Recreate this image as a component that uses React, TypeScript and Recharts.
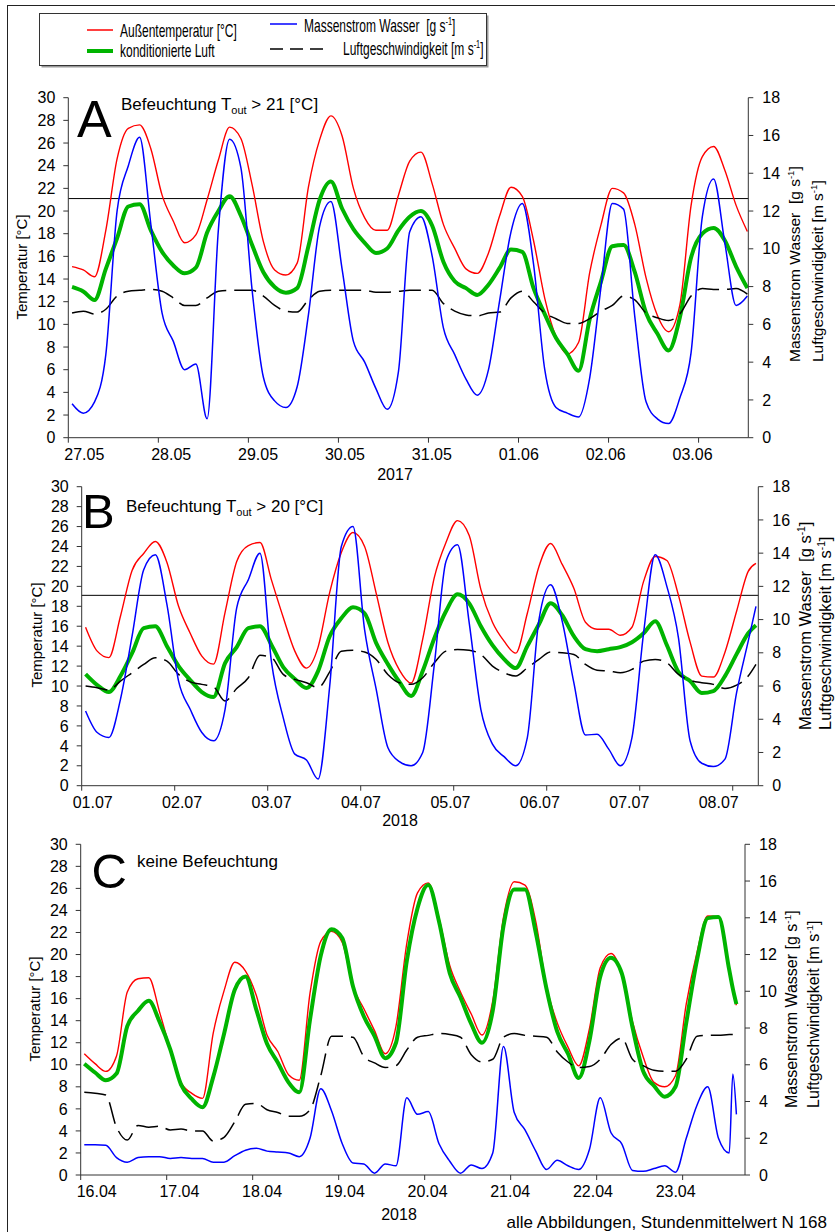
import React from 'react';
import { LineChart, Line, XAxis, YAxis, ReferenceLine } from 'recharts';

const FONT = '"Liberation Sans", Arial, Helvetica, sans-serif';

// ---------- x categories (hours since first midnight) ----------
const hoursA = [1,4,7,10,13,16,19,22,25,28,31,34,37,40,43,46,49,52,55,58,61,64,67,70,73,76,79,82,85,88,91,94,97,100,103,106,109,112,115,118,121,124,127,130,133,136,139,142,145,148,151,154,157,160,163,166,169,172,175,178,181];
const hoursB = [1,4,7,10,13,16,19,22,25,28,31,34,37,40,43,46,49,52,55,58,61,64,67,70,73,76,79,82,85,88,91,94,97,100,103,106,109,112,115,118,121,124,127,130,133,136,139,142,145,148,151,154,157,160,163,166,169,172,174];
const hoursC = [1,4,7,10,13,16,19,22,25,28,31,34,37,40,43,46,49,52,55,58,61,64,67,70,73,76,79,82,85,88,91,94,97,100,103,106,109,112,115,118,121,124,127,130,133,136,139,142,145,148,151,154,157,160,163,166,169,172,175,178,181,182,183];

// ---------- tick labels ----------
const datesA = ['27.05','28.05','29.05','30.05','31.05','01.06','02.06','03.06'];
const datesB = ['01.07','02.07','03.07','04.07','05.07','06.07','07.07','08.07'];
const datesC = ['16.04','17.04','18.04','19.04','20.04','21.04','22.04','23.04'];
const dayTicks = [0,24,48,72,96,120,144,168];
const tempTicks = [0,2,4,6,8,10,12,14,16,18,20,22,24,26,28,30];
const rightTicks = [0,2,4,6,8,10,12,14,16,18];

// ---------- Panel A (2017) ----------
const redA = [15.1,14.8,14.2,18.3,24.6,27.3,27.6,25.5,21.4,19.1,17.2,17.9,21.0,24.5,27.4,26.4,22.3,17.3,14.8,14.35,15.4,22.1,26.3,28.4,26.6,22.0,19.4,18.3,18.3,21.4,24.4,25.2,22.4,18.8,16.7,14.9,14.5,16.3,19.6,22.1,21.3,17.4,12.3,8.9,7.4,8.4,14.6,18.8,22.0,21.6,18.8,14.1,10.8,9.35,11.7,20.5,24.8,25.7,23.6,20.5,18.2];
const greenA = [13.3,12.9,12.15,14.9,17.6,20.4,20.6,18.3,16.4,15.2,14.5,15.0,18.1,20.0,21.3,19.6,17.0,14.6,13.3,12.8,13.2,16.9,21.0,22.6,20.2,18.4,17.2,16.3,16.7,18.3,19.5,20.0,18.7,15.5,13.8,13.2,12.6,13.5,15.0,16.6,16.4,13.2,10.9,8.8,7.4,5.9,10.5,13.8,16.9,17.0,14.6,11.0,9.2,7.7,10.6,15.9,18.0,18.5,17.4,15.1,13.2];
const blueA = [1.8,1.3,1.9,4.4,12.0,14.4,15.9,11.3,6.6,5.1,3.6,3.9,1.0,11.0,15.8,14.3,7.8,3.2,1.95,1.6,2.7,6.5,11.2,12.5,8.9,5.1,4.0,2.6,1.5,3.5,10.9,11.7,9.6,5.8,4.4,3.1,2.25,3.6,7.3,10.9,12.4,9.2,3.6,1.6,1.3,1.1,3.2,8.0,12.4,12.1,6.4,1.9,1.0,0.75,2.1,4.5,11.7,13.7,10.3,7.0,7.5];
const windA = [6.6,6.7,6.55,6.8,7.5,7.75,7.8,7.85,7.75,7.4,7.0,7.0,7.4,7.75,7.8,7.8,7.8,7.5,7.0,6.7,6.65,7.3,7.75,7.8,7.8,7.8,7.8,7.7,7.7,7.75,7.8,7.8,7.8,7.1,6.7,6.5,6.45,6.6,6.65,7.4,7.75,7.2,6.6,6.3,6.05,6.05,6.3,6.7,7.0,7.5,7.3,6.6,6.35,6.2,6.55,7.5,7.9,7.85,7.85,7.9,7.6];

// ---------- Panel B (2018, July) ----------
const redB = [15.9,13.5,12.85,17.0,21.6,23.3,24.5,22.4,18.0,15.3,13.0,12.2,17.4,22.5,24.1,24.4,20.6,16.9,13.5,11.8,13.9,19.4,23.4,25.4,24.0,19.3,14.4,11.6,10.3,14.7,20.9,24.4,26.6,25.1,19.7,16.4,14.5,13.3,17.3,22.0,24.3,22.2,19.8,16.4,15.7,15.7,15.1,15.9,20.5,23.0,22.6,19.1,14.4,11.0,10.9,13.4,17.5,21.5,22.3];
const greenB = [11.2,10.1,9.4,11.0,13.3,15.8,16.0,14.0,12.0,10.6,9.4,8.9,12.3,13.9,15.8,16.0,14.1,11.9,10.7,9.8,11.5,15.0,16.8,17.9,17.3,14.3,12.2,10.4,9.0,11.5,14.8,17.5,19.2,18.3,16.0,14.1,12.7,11.8,14.0,16.2,18.3,17.1,15.0,13.7,13.5,13.7,13.9,14.4,15.3,16.5,14.1,11.4,10.5,9.3,9.5,11.0,13.2,15.3,16.1];
const blueB = [4.5,3.2,2.9,5.2,9.0,13.0,13.9,10.9,6.3,4.6,3.2,2.7,4.6,10.7,12.4,14.0,7.4,4.1,1.9,1.55,0.4,6.0,14.4,15.6,9.4,5.8,2.3,1.45,1.2,2.0,7.3,13.5,14.5,9.8,4.6,2.5,1.75,1.2,2.9,10.0,12.1,9.9,6.2,3.05,3.1,2.2,1.2,2.9,9.2,13.9,12.0,8.9,2.7,1.35,1.15,1.6,5.6,8.7,10.8];
const windB = [6.0,5.9,5.75,6.3,6.8,7.3,7.7,7.5,6.7,6.25,6.1,5.95,5.1,5.85,6.5,7.85,7.7,6.7,6.4,6.2,5.9,6.85,8.1,8.15,8.05,7.6,6.7,6.2,6.1,6.5,7.4,8.1,8.2,8.15,7.9,7.2,6.8,6.6,7.1,7.6,8.05,8.0,7.9,7.3,6.95,6.9,6.8,7.0,7.5,7.6,7.4,6.7,6.35,6.2,6.1,5.85,6.05,6.6,7.3];

// ---------- Panel C (2018, April) ----------
const redC = [11.0,10.1,9.4,10.8,16.6,17.8,17.9,14.8,11.4,8.4,7.4,6.95,12.9,16.7,19.3,18.5,16.3,12.7,11.2,9.1,8.6,16.5,21.2,22.1,21.1,17.1,15.1,13.1,11.0,13.5,21.0,25.6,26.5,23.3,19.0,16.6,14.6,12.7,15.8,23.4,26.6,26.3,23.0,17.1,13.8,11.6,9.9,13.3,18.8,20.1,18.3,13.9,10.7,8.4,8.0,9.0,15.5,20.2,23.5,23.4,18.5,16.8,15.4];
const greenC = [10.1,9.3,8.6,9.2,13.5,14.9,15.8,13.9,11.4,8.2,6.9,6.15,8.9,12.8,16.8,18.0,15.0,11.9,10.2,8.4,7.5,14.1,19.9,22.3,21.5,17.1,14.4,12.6,10.6,12.0,19.4,24.2,26.3,23.0,18.3,16.1,13.7,12.0,14.9,22.6,25.9,25.9,22.0,16.9,13.0,11.0,8.8,12.2,18.0,19.7,18.3,13.4,9.4,8.1,7.1,8.0,13.8,19.5,23.3,23.4,18.6,16.9,15.5];
const blueC = [1.65,1.65,1.62,0.95,0.7,0.95,1.0,1.0,0.9,0.95,0.9,0.9,0.7,0.7,1.05,1.35,1.45,1.3,1.25,1.2,1.0,2.0,4.7,3.5,1.7,0.65,0.6,0.1,0.6,0.5,4.2,3.3,3.45,1.7,0.75,0.1,0.55,0.35,1.2,7.0,3.4,2.45,1.3,0.3,0.8,0.5,0.3,1.4,4.2,2.3,1.7,0.25,0.2,0.35,0.5,0.15,2.0,3.8,4.8,2.0,1.2,5.5,3.3];
const windC = [4.5,4.45,4.35,2.6,1.9,2.7,2.6,2.65,2.45,2.5,2.4,2.4,1.85,2.05,2.9,3.85,3.9,3.55,3.4,3.2,3.2,3.55,5.4,7.55,7.55,7.5,6.45,6.1,5.85,5.95,6.8,7.5,7.6,7.7,7.65,7.5,6.55,6.15,6.3,7.5,7.7,7.6,7.55,7.5,6.7,6.15,5.85,5.9,6.3,7.1,7.45,6.3,5.95,5.7,5.65,5.65,6.3,7.55,7.6,7.6,7.65,7.65,7.7];

const thresholdA = 21.1;
const thresholdB = 19.1;

function buildData(hours, red, green, blue, wind) {
  return hours.map((h, i) => ({ h, red: red[i], green: green[i], blue: blue[i], wind: wind[i] }));
}

const dataA = buildData(hoursA, redA, greenA, blueA, windA);
const dataB = buildData(hoursB, redB, greenB, blueB, windB);
const dataC = buildData(hoursC, redC, greenC, blueC, windC);

const Sup = ({ base }) => (
  <>
    <tspan dy={-6} fontSize={base * 0.62}>-1</tspan>
    <tspan dy={6}>]</tspan>
  </>
);

function Overlay({ cfg }) {
  const o = cfg.overlay;
  return (
    <g fontFamily={FONT} fill="#000">
      <text x={o.letterX} y={o.letterY} fontSize={o.letterSize} fill="#000">{o.letter}</text>
      <text x={o.headX} y={o.headY} fontSize={17} fill="#000">
        {o.headMain}
        {o.headSub ? <tspan dy={4} fontSize={11}>{o.headSub}</tspan> : null}
        {o.headSub ? <tspan dy={-4}>{o.headTail}</tspan> : null}
      </text>
      <text
        x={o.tempX}
        y={o.tempY}
        fontSize={15}
        textAnchor="middle"
        fill="#000"
        transform={`rotate(-90 ${o.tempX} ${o.tempY})`}
      >
        Temperatur [°C]
      </text>
      <text
        x={o.r1X}
        y={o.rY}
        fontSize={o.rSize}
        textAnchor="start"
        fill="#000"
        transform={`rotate(-90 ${o.r1X} ${o.rY})`}
      >
        {o.r1Text}
        <Sup base={o.rSize} />
      </text>
      <text
        x={o.r2X}
        y={o.rY}
        fontSize={o.rSize}
        textAnchor="start"
        fill="#000"
        transform={`rotate(-90 ${o.r2X} ${o.rY})`}
      >
        {'Luftgeschwindigkeit [m s'}
        <Sup base={o.rSize} />
      </text>
      <text x={o.yearX} y={o.yearY} fontSize={16} textAnchor="middle" fill="#000">{o.year}</text>
      {o.footer ? (
        <text x={827} y={o.footerY} fontSize={17} textAnchor="end" fill="#000">{o.footer}</text>
      ) : null}
    </g>
  );
}

function DateTick(props) {
  const { x, y, payload, dates, shift } = props;
  const i = Math.round(payload.value / 24);
  const dx = shift[0] + ((shift[1] - shift[0]) * i) / 7;
  return (
    <text x={x + dx} y={y} dy="0.71em" textAnchor="middle" fontSize={16} fontFamily={FONT} fill="#000">
      {dates[i]}
    </text>
  );
}

function Panel({ cfg }) {
  const axisColor = '#333';
  return (
    <div style={{ position: 'absolute', left: 0, top: cfg.top, width: 835, height: cfg.height }}>
      <LineChart width={835} height={cfg.height} data={cfg.data} margin={cfg.margin}>
        <XAxis
          xAxisId="x"
          type="number"
          dataKey="h"
          domain={[0, cfg.xMax]}
          allowDataOverflow
          ticks={dayTicks}
          interval={0}
          height={30}
          tickSize={5}
          tickMargin={6}
          stroke={axisColor}
          tick={(p) => <DateTick {...p} dates={cfg.dates} shift={cfg.shift} />}
        />
        <YAxis
          yAxisId="L"
          type="number"
          domain={[0, 30]}
          ticks={tempTicks}
          interval={0}
          width={45}
          tickSize={5}
          tickMargin={8}
          stroke={axisColor}
          tick={{ fontSize: 16, fill: '#000', fontFamily: FONT }}
          label={<Overlay cfg={cfg} />}
        />
        <YAxis
          yAxisId="R"
          orientation="right"
          type="number"
          domain={[0, 18]}
          ticks={rightTicks}
          interval={0}
          width={45}
          tickSize={5}
          tickMargin={9}
          stroke={axisColor}
          tick={{ fontSize: 16, fill: '#000', fontFamily: FONT }}
        />
        {cfg.threshold != null ? (
          <ReferenceLine xAxisId="x" yAxisId="L" y={cfg.threshold} stroke="#000" strokeWidth={1} />
        ) : null}
        <Line xAxisId="x" yAxisId="L" type="monotone" dataKey="red" stroke="#ff0000" strokeWidth={1.4} dot={false} isAnimationActive={false} />
        <Line xAxisId="x" yAxisId="L" type="monotone" dataKey="green" stroke="#00b400" strokeWidth={4} dot={false} isAnimationActive={false} />
        <Line xAxisId="x" yAxisId="R" type="monotone" dataKey="wind" stroke="#000" strokeWidth={1.5} strokeDasharray="22 8" dot={false} isAnimationActive={false} />
        <Line xAxisId="x" yAxisId="R" type="monotone" dataKey="blue" stroke="#0000ff" strokeWidth={1.5} dot={false} isAnimationActive={false} />
      </LineChart>
    </div>
  );
}

const panels = [
  {
    top: 80,
    height: 405,
    margin: { top: 17.7, right: 41.7, bottom: 17.3, left: 23.3 },
    xMax: 181.25,
    data: dataA,
    dates: datesA,
    shift: [16, -6],
    threshold: thresholdA,
    overlay: {
      letter: 'A', letterX: 77, letterY: 57, letterSize: 52,
      headX: 121, headY: 30, headMain: 'Befeuchtung T', headSub: 'out', headTail: ' > 21 [°C]',
      tempX: 27, tempY: 187,
      r1X: 800, r2X: 823, rY: 282, rSize: 15.5, r1Text: 'Massenstrom Wasser\u00a0\u00a0[g s',
      yearX: 395, yearY: 400, year: '2017',
    },
  },
  {
    top: 470,
    height: 360,
    margin: { top: 16.7, right: 31.7, bottom: 14.3, left: 36.7 },
    xMax: 174.6,
    data: dataB,
    dates: datesB,
    shift: [11, -14],
    threshold: thresholdB,
    overlay: {
      letter: 'B', letterX: 82, letterY: 58, letterSize: 49,
      headX: 126, headY: 41.7, headMain: 'Befeuchtung T', headSub: 'out', headTail: ' > 20 [°C]',
      tempX: 41.5, tempY: 165,
      r1X: 811, r2X: 831, rY: 260, rSize: 16.5, r1Text: 'Massenstrom Wasser\u00a0\u00a0[g s',
      yearX: 400, yearY: 356, year: '2018',
    },
  },
  {
    top: 828,
    height: 404,
    margin: { top: 16.3, right: 45, bottom: 27, left: 35.7 },
    xMax: 185.4,
    data: dataC,
    dates: datesC,
    shift: [16, -7],
    threshold: null,
    overlay: {
      letter: 'C', letterX: 91.5, letterY: 60, letterSize: 49,
      headX: 137, headY: 38.7, headMain: 'keine Befeuchtung', headSub: null, headTail: null,
      tempX: 39.5, tempY: 181,
      r1X: 797, r2X: 819, rY: 280, rSize: 16, r1Text: 'Massenstrom Wasser [g s',
      yearX: 399, yearY: 392, year: '2018',
      footer: 'alle Abbildungen, Stundenmittelwert N 168', footerY: 400,
    },
  },
];

const LEG_SCALE = 0.667;

function LegendBox() {
  return (
    <svg width={835} height={80} style={{ position: 'absolute', left: 0, top: 0 }} fontFamily={FONT}>
      <rect x={41.5} y={15.5} width={447} height={52} fill="#9a9a9a" />
      <rect x={39.5} y={13.5} width={447} height={52} fill="#fff" stroke="#333" strokeWidth={1} />
      <line x1={87} x2={113} y1={30} y2={30} stroke="#ff0000" strokeWidth={1.5} />
      <text transform={`translate(120 36.5) scale(${LEG_SCALE} 1)`} x={0} y={0} fontSize={18} fill="#000">Außentemperatur [°C]</text>
      <line x1={87} x2={113} y1={51} y2={51} stroke="#00b400" strokeWidth={4} />
      <text transform={`translate(120 56.5) scale(${LEG_SCALE} 1)`} x={0} y={0} fontSize={18} fill="#000">konditionierte Luft</text>
      <line x1={270} x2={297} y1={24} y2={24} stroke="#0000ff" strokeWidth={1.5} />
      <text transform={`translate(304 31.5) scale(${LEG_SCALE} 1)`} x={0} y={0} fontSize={18} fill="#000">
        {'Massenstrom Wasser\u00a0\u00a0[g s'}
        <tspan dy={-7} fontSize={11}>-1</tspan>
        <tspan dy={7}>]</tspan>
      </text>
      <line x1={270} x2={323} y1={49} y2={49} stroke="#000" strokeWidth={1.5} strokeDasharray="13 7" />
      <text transform={`translate(343 55) scale(${LEG_SCALE} 1)`} x={0} y={0} fontSize={18} fill="#000">
        {'Luftgeschwindigkeit [m s'}
        <tspan dy={-7} fontSize={11}>-1</tspan>
        <tspan dy={7}>]</tspan>
      </text>
    </svg>
  );
}

export default function App() {
  return (
    <div
      style={{
        position: 'absolute',
        left: 0,
        top: 0,
        width: 835,
        height: 1232,
        overflow: 'hidden',
        background: '#fff',
        fontFamily: FONT,
      }}
    >
      <style>{'.recharts-surface{overflow:visible}'}</style>
      <div
        style={{
          position: 'absolute',
          left: 7,
          top: 5,
          width: 900,
          height: 1300,
          borderLeft: '1px solid #222',
          borderTop: '1px solid #222',
        }}
      />
      <LegendBox />
      {panels.map((cfg, i) => (
        <Panel key={i} cfg={cfg} />
      ))}
    </div>
  );
}
